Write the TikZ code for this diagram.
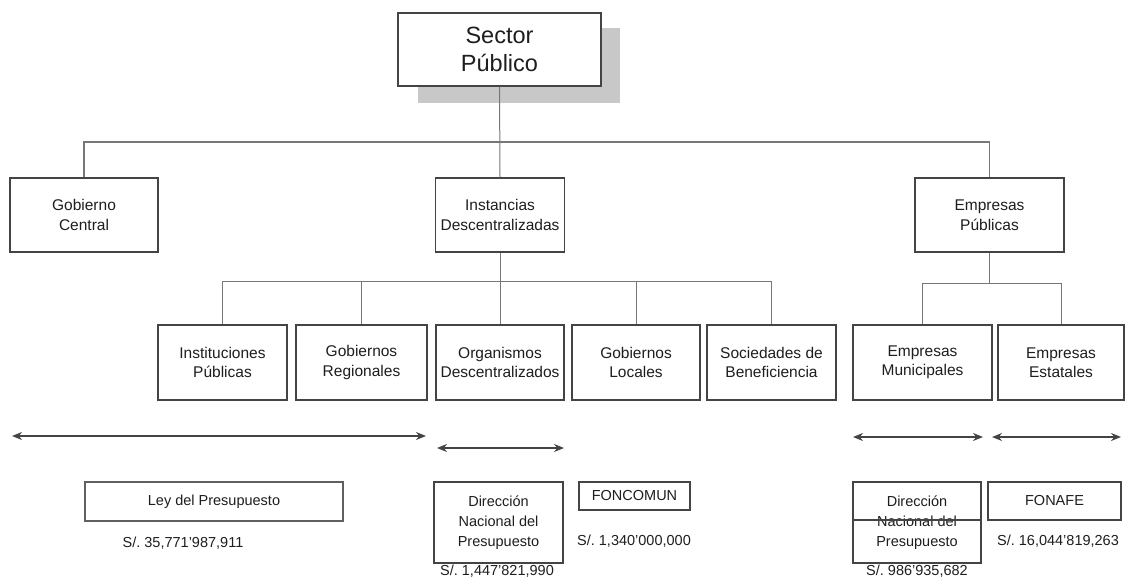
\documentclass[tikz,border=0pt]{standalone}
\usepackage{fontspec}
\setmainfont{Liberation Sans}
\usetikzlibrary{arrows.meta}
\definecolor{boxline}{HTML}{444444}
\definecolor{conline}{HTML}{777777}
\definecolor{shadowgray}{HTML}{C8C8C8}
\definecolor{txt}{HTML}{1E1E1E}
\begin{document}
\begin{tikzpicture}[x=1pt,y=-1pt,
  orgbox/.style={draw=boxline,line width=1.5pt,fill=white,text=txt,align=center,inner sep=0pt,
    font=\fontsize{15.5}{19.5}\selectfont},
  topbox/.style={draw=boxline,line width=2pt,fill=white,text=txt,align=center,inner sep=0pt,
    font=\fontsize{23.5}{28}\selectfont},
  infobox/.style={draw=boxline,line width=1.3pt,fill=white,text=txt,align=center,inner sep=0pt,
    font=\fontsize{14.5}{20}\selectfont},
  money/.style={text=txt,inner sep=0pt,font=\fontsize{14.5}{16}\selectfont},
  con/.style={draw=conline,line width=1pt},
  span/.style={draw=boxline,line width=2pt,{Stealth[length=10pt,width=8pt]}-{Stealth[length=10pt,width=8pt]}}
]
\useasboundingbox (0,0) rectangle (1134,580);
% shadow of top box
\fill[shadowgray] (418,28) rectangle (620,103);
\node[topbox,minimum width=203pt,minimum height=73pt] (sector) at (499.5,49.5) {Sector\\Público};

% second level
\node[orgbox,minimum width=148pt,minimum height=74pt] (gc) at (84,215) {Gobierno\\Central};
\node[orgbox,minimum width=129pt,minimum height=74pt] (inst) at (500,215) {Instancias\\Descentralizadas};
\node[orgbox,minimum width=149pt,minimum height=74pt] (emp) at (989.5,215) {Empresas\\Públicas};

% third level
\node[orgbox,minimum width=129pt,minimum height=75pt] (ip) at (222.5,362.5) {Instituciones\\Públicas};
\node[orgbox,minimum width=131pt,minimum height=75pt] (gr) at (361.5,362.5) {Gobiernos\\Regionales};
\node[orgbox,minimum width=128pt,minimum height=75pt] (od) at (500,362.5) {Organismos\\Descentralizados};
\node[orgbox,minimum width=128pt,minimum height=75pt] (gl) at (636,362.5) {Gobiernos\\Locales};
\node[orgbox,minimum width=129pt,minimum height=75pt] (sb) at (771.5,362.5) {Sociedades de\\Beneficiencia};
\node[orgbox,minimum width=139pt,minimum height=75pt] (em) at (922.5,362.5) {Empresas\\Municipales};
\node[orgbox,minimum width=126pt,minimum height=75pt] (ee) at (1061,362.5) {Empresas\\Estatales};

% buses
\coordinate (bus1) at (0,142);
\coordinate (bus2) at (0,281);
\coordinate (bus3) at (0,283);

\draw[con,line width=1.3pt] (gc.north) |- (emp.north |- bus1) -- (emp.north);
\draw[con] (sector.south) -- (inst.north);
\draw[con] (ip.north) |- (sb.north |- bus2) -- (sb.north);
\draw[con] (gr.north) -- (gr.north |- bus2);
\draw[con] (gl.north) -- (gl.north |- bus2);
\draw[con] (inst.south) -- (od.north);
\draw[con] (em.north) |- (ee.north |- bus3) -- (ee.north);
\draw[con] (emp.south) -- (emp.south |- bus3);

% span arrows
\coordinate (a1l) at (12,436);  \coordinate (a1r) at (426,436);
\coordinate (a2l) at (437,448); \coordinate (a2r) at (564,448);
\coordinate (a3l) at (853,437); \coordinate (a3r) at (983,437);
\coordinate (a4l) at (992,437); \coordinate (a4r) at (1121,437);
\draw[span] (a1l) -- (a1r);
\draw[span] (a2l) -- (a2r);
\draw[span] (a3l) -- (a3r);
\draw[span] (a4l) -- (a4r);

% bottom boxes
\node[infobox,line width=2pt,draw=boxline!85,minimum width=258pt,minimum height=39pt] (ley) at (214,501.5) {Ley del Presupuesto};
\node[infobox,minimum width=129pt,minimum height=81pt] (dir1) at (498.5,522.5) {Dirección\\Nacional del\\Presupuesto};
\node[infobox,minimum width=111pt,minimum height=28pt] (fon) at (634.5,496) {FONCOMUN};
\node[infobox,minimum width=128pt,minimum height=81pt] (dir2) at (917,522.5) {Dirección\\Nacional del\\Presupuesto};
\draw[draw=boxline,line width=1.3pt] (dir2.west |- 0,520) -- (dir2.east |- 0,520);
\node[infobox,minimum width=133pt,minimum height=38pt] (fnf) at (1054.5,501) {FONAFE};

% amounts
\node[money] (m1) at (183,543) {S/.\ 35,771'987,911};
\node[money] (m2) at (497,571) {S/.\ 1,447'821,990};
\node[money] (m3) at (634,541) {S/.\ 1,340'000,000};
\node[money] (m4) at (917,571) {S/.\ 986'935,682};
\node[money] (m5) at (1058,541) {S/.\ 16,044'819,263};
\end{tikzpicture}
\end{document}
